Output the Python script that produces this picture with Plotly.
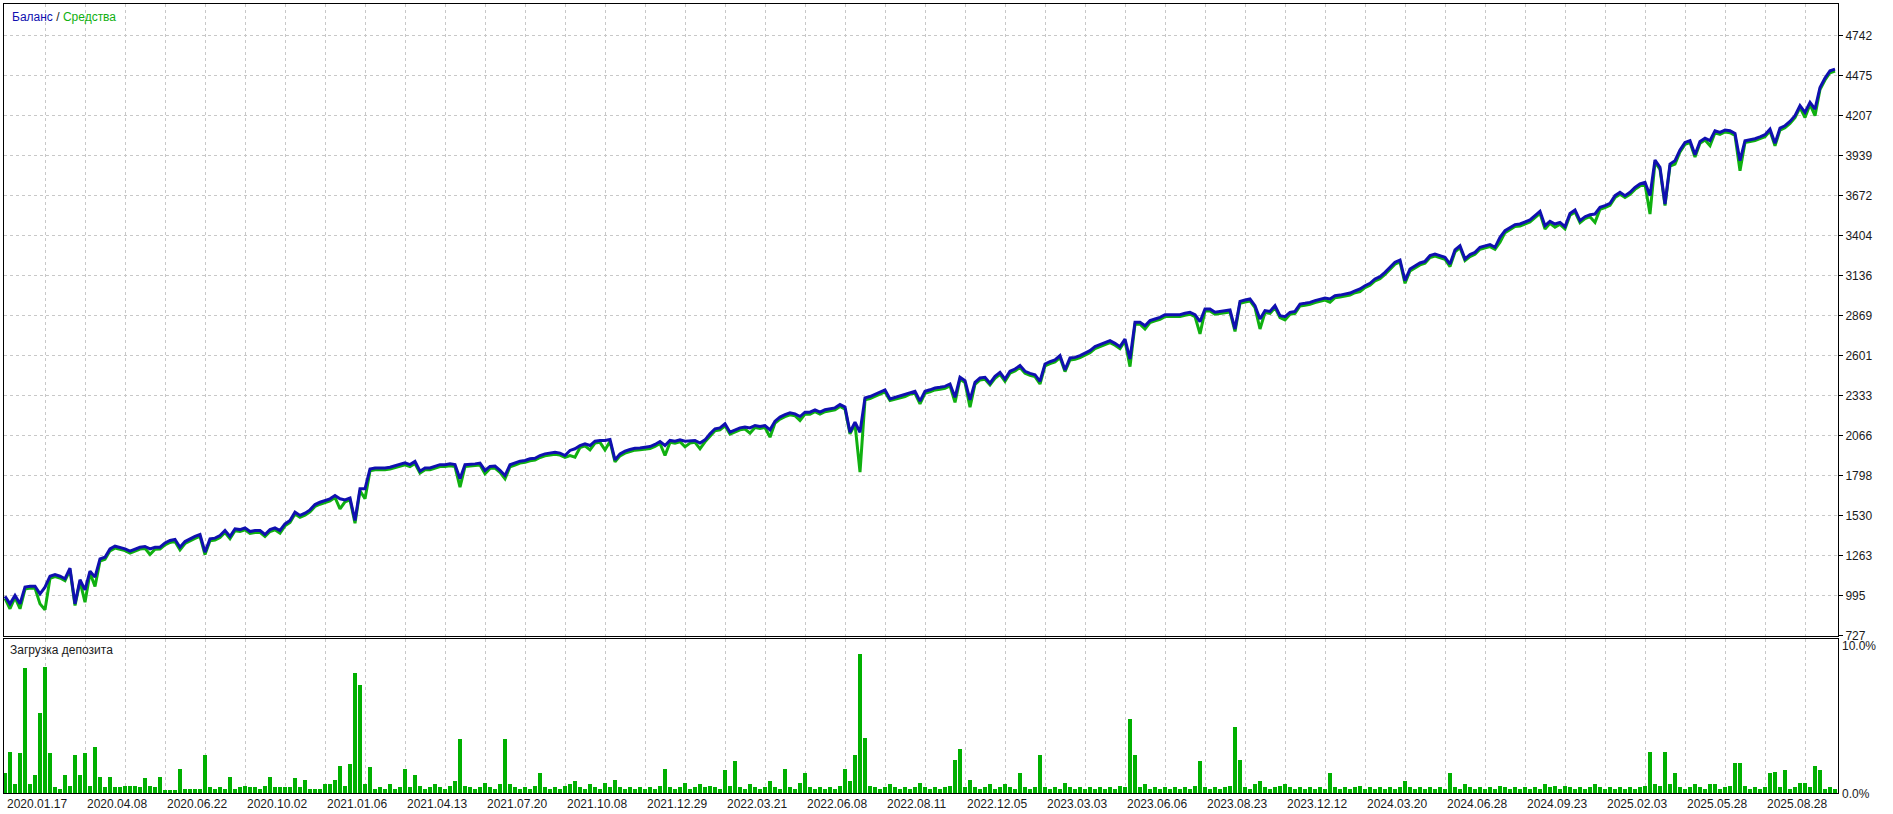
import plotly.graph_objects as go

# ---------------- data ----------------
date_labels = ["2020.01.17", "2020.04.08", "2020.06.22", "2020.10.02", "2021.01.06",
               "2021.04.13", "2021.07.20", "2021.10.08", "2021.12.29", "2022.03.21",
               "2022.06.08", "2022.08.11", "2022.12.05", "2023.03.03", "2023.06.06",
               "2023.08.23", "2023.12.12", "2024.03.20", "2024.06.28", "2024.09.23",
               "2025.02.03", "2025.05.28", "2025.08.28"]

y_ticks = [727, 995, 1263, 1530, 1798, 2066, 2333, 2601, 2869, 3136, 3404, 3672,
           3939, 4207, 4475, 4742]

balance = [
    990, 939, 995, 939, 1051, 1057, 1057, 1006, 1051, 1124,
    1135, 1124, 1107, 1178, 939, 1100, 1033, 1158, 1118, 1240,
    1251, 1307, 1325, 1318, 1307, 1292, 1307, 1318, 1323, 1307,
    1318, 1318, 1347, 1363, 1370, 1318, 1356, 1374, 1390, 1403,
    1285, 1374, 1379, 1396, 1430, 1390, 1441, 1436, 1448, 1423,
    1430, 1430, 1403, 1436, 1448, 1430, 1474, 1497, 1553, 1531,
    1546, 1568, 1604, 1619, 1631, 1642, 1664, 1642, 1635, 1648,
    1497, 1709, 1709, 1842, 1849, 1847, 1849, 1854, 1865, 1876,
    1883, 1871, 1892, 1827, 1849, 1849, 1860, 1871, 1871, 1876,
    1871, 1776, 1871, 1876, 1876, 1881, 1832, 1859, 1861, 1832,
    1798, 1870, 1881, 1894, 1899, 1910, 1914, 1932, 1943, 1948,
    1954, 1948, 1932, 1966, 1977, 1999, 2010, 1999, 2028, 2033,
    2033, 2039, 1903, 1943, 1961, 1972, 1981, 1983, 1988, 1992,
    2006, 2026, 1999, 2033, 2028, 2037, 2028, 2028, 2033, 2015,
    2037, 2077, 2111, 2117, 2144, 2088, 2104, 2117, 2122, 2117,
    2133, 2126, 2133, 2104, 2162, 2189, 2206, 2218, 2211, 2193,
    2222, 2222, 2238, 2222, 2238, 2244, 2251, 2273, 2256, 2088,
    2155, 2088, 2318, 2327, 2340, 2356, 2371, 2311, 2322, 2333,
    2340, 2356, 2362, 2296, 2362, 2372, 2384, 2389, 2395, 2411,
    2322, 2456, 2433, 2304, 2422, 2451, 2456, 2416, 2462, 2489,
    2444, 2496, 2511, 2534, 2496, 2482, 2473, 2429, 2545, 2560,
    2572, 2601, 2505, 2585, 2589, 2601, 2616, 2634, 2661, 2674,
    2690, 2701, 2683, 2661, 2712, 2578, 2824, 2824, 2801, 2835,
    2846, 2857, 2875, 2875, 2879, 2875, 2884, 2891, 2875, 2828,
    2913, 2913, 2891, 2897, 2902, 2906, 2779, 2964, 2973, 2980,
    2935, 2846, 2902, 2897, 2935, 2868, 2862, 2891, 2897, 2946,
    2951, 2957, 2969, 2975, 2986, 2980, 3002, 3006, 3013, 3020,
    3035, 3047, 3069, 3085, 3114, 3129, 3158, 3190, 3226, 3241,
    3103, 3181, 3203, 3221, 3232, 3270, 3281, 3270, 3259, 3214,
    3308, 3337, 3248, 3277, 3292, 3326, 3337, 3344, 3326, 3393,
    3437, 3460, 3478, 3482, 3493, 3509, 3538, 3567, 3471, 3500,
    3482, 3493, 3464, 3553, 3576, 3504, 3531, 3544, 3549, 3594,
    3605, 3620, 3672, 3694, 3672, 3694, 3727, 3750, 3761, 3672,
    3910, 3861, 3616, 3883, 3906, 3977, 4028, 4040, 3946, 4035,
    4057, 4040, 4106, 4095, 4111, 4106, 4088, 3906, 4040, 4046,
    4053, 4066, 4080, 4117, 4022, 4124, 4140, 4169, 4207, 4274,
    4229, 4296, 4251, 4396, 4459, 4508, 4519,
]

equity = [
    975, 906, 982, 906, 1038, 1045, 1044, 939, 899, 1110,
    1122, 1112, 1094, 1165, 928, 1088, 950, 1145, 1055, 1226,
    1238, 1294, 1312, 1305, 1295, 1279, 1294, 1306, 1310, 1269,
    1305, 1306, 1334, 1350, 1357, 1300, 1343, 1361, 1377, 1390,
    1269, 1361, 1366, 1383, 1417, 1375, 1428, 1423, 1435, 1410,
    1417, 1418, 1390, 1423, 1435, 1412, 1461, 1484, 1540, 1518,
    1533, 1555, 1591, 1606, 1618, 1629, 1651, 1575, 1622, 1635,
    1479, 1696, 1642, 1829, 1836, 1834, 1836, 1841, 1852, 1863,
    1870, 1858, 1879, 1814, 1836, 1836, 1847, 1858, 1858, 1863,
    1858, 1720, 1858, 1863, 1863, 1868, 1810, 1846, 1848, 1819,
    1776, 1857, 1868, 1881, 1886, 1897, 1901, 1919, 1930, 1935,
    1941, 1935, 1919, 1932, 1921, 1986, 1997, 1970, 2015, 2020,
    1970, 2026, 1890, 1930, 1948, 1959, 1968, 1970, 1975, 1979,
    1993, 2013, 1932, 2020, 2015, 2024, 1990, 2015, 2020, 1977,
    2024, 2064, 2098, 2104, 2131, 2075, 2091, 2104, 2109, 2082,
    2120, 2113, 2120, 2055, 2149, 2176, 2193, 2205, 2198, 2166,
    2209, 2209, 2225, 2209, 2225, 2231, 2238, 2260, 2243, 2077,
    2142, 1821, 2305, 2314, 2327, 2343, 2358, 2300, 2309, 2320,
    2327, 2343, 2349, 2278, 2349, 2359, 2371, 2376, 2382, 2398,
    2288, 2443, 2420, 2255, 2409, 2438, 2443, 2405, 2449, 2476,
    2429, 2483, 2498, 2521, 2483, 2469, 2460, 2411, 2532, 2547,
    2559, 2588, 2494, 2572, 2576, 2588, 2603, 2621, 2648, 2661,
    2677, 2688, 2670, 2648, 2699, 2527, 2811, 2811, 2779, 2822,
    2833, 2844, 2862, 2862, 2866, 2862, 2871, 2878, 2862, 2746,
    2900, 2900, 2878, 2884, 2889, 2893, 2763, 2951, 2960, 2967,
    2922, 2779, 2889, 2884, 2922, 2855, 2840, 2878, 2884, 2933,
    2938, 2944, 2956, 2962, 2973, 2958, 2989, 2993, 3000, 3007,
    3022, 3030, 3056, 3072, 3101, 3116, 3145, 3177, 3213, 3228,
    3085, 3168, 3190, 3208, 3219, 3257, 3268, 3257, 3246, 3197,
    3295, 3324, 3237, 3264, 3279, 3313, 3324, 3331, 3313, 3360,
    3424, 3447, 3465, 3469, 3480, 3496, 3525, 3554, 3449, 3487,
    3460, 3480, 3449, 3540, 3563, 3491, 3518, 3531, 3493, 3581,
    3592, 3607, 3659, 3681, 3659, 3681, 3714, 3737, 3748, 3549,
    3897, 3848, 3605, 3870, 3883, 3964, 4015, 4027, 3930, 4022,
    4044, 4006, 4093, 4082, 4098, 4093, 4075, 3839, 4027, 4033,
    4040, 4053, 4067, 4104, 4006, 4111, 4127, 4156, 4194, 4261,
    4195, 4283, 4207, 4383, 4446, 4495, 4506,
]

deposit_load = [
    1.3, 2.7, 0.6, 2.6, 8.1, 0.6, 1.2, 5.2, 8.2, 2.6,
    0.4, 0.3, 1.2, 0.5, 2.5, 1.2, 2.6, 0.5, 3.0, 1.1,
    0.4, 1.1, 0.4, 0.4, 0.5, 0.5, 0.5, 0.4, 1.0, 0.5,
    0.4, 1.1, 0.2, 0.2, 0.2, 1.6, 0.3, 0.3, 0.3, 0.3,
    2.5, 0.4, 0.3, 0.4, 0.3, 1.1, 0.3, 0.4, 0.5, 0.4,
    0.4, 0.3, 0.5, 1.1, 0.4, 0.4, 0.4, 0.4, 1.0, 0.4,
    0.9, 0.3, 0.3, 0.3, 0.6, 0.6, 0.9, 1.8, 0.5, 1.9,
    7.8, 7.0, 0.6, 1.7, 0.3, 0.4, 0.3, 0.6, 0.3, 0.4,
    1.6, 0.4, 1.2, 0.5, 0.3, 0.4, 0.6, 0.4, 0.3, 0.5,
    0.8, 3.5, 0.5, 0.4, 0.3, 0.4, 0.7, 0.4, 0.3, 0.6,
    3.5, 0.6, 0.4, 0.3, 0.4, 0.3, 0.5, 1.3, 0.4, 0.3,
    0.4, 0.3, 0.5, 0.6, 0.8, 0.4, 0.3, 0.6, 0.4, 0.3,
    0.7, 0.4, 0.9, 0.4, 0.3, 0.4, 0.3, 0.4, 0.3, 0.4,
    0.3, 0.5, 1.6, 0.4, 0.3, 0.4, 0.7, 0.3, 0.4, 0.6,
    0.4, 0.5, 0.4, 0.3, 1.5, 0.5, 2.1, 0.4, 0.3, 0.6,
    0.4, 0.3, 0.4, 0.8, 0.4, 0.3, 1.6, 0.4, 0.3, 0.7,
    1.3, 0.4, 0.3, 0.4, 0.3, 0.4, 0.3, 0.5, 1.6, 0.8,
    2.5, 9.0, 3.6, 0.5, 0.4, 0.3, 0.4, 0.6, 0.4, 0.3,
    0.4, 0.3, 0.4, 0.7, 0.4, 0.3, 0.4, 0.3, 0.4, 0.5,
    2.2, 2.9, 0.4, 0.9, 0.4, 0.3, 0.4, 0.6, 0.3, 0.4,
    0.6, 0.4, 0.3, 1.3, 0.4, 0.3, 0.4, 2.5, 0.4, 0.3,
    0.4, 0.3, 0.7, 0.4, 0.3, 0.4, 0.3, 0.4, 0.3, 0.4,
    0.3, 0.4, 0.3, 0.5, 0.4, 4.8, 2.5, 0.4, 0.6, 0.3,
    0.4, 0.3, 0.4, 0.3, 0.4, 0.3, 0.4, 0.3, 0.5, 2.1,
    0.4, 0.3, 0.4, 0.3, 0.4, 0.5, 4.3, 2.2, 0.4, 0.3,
    0.6, 0.8, 0.4, 0.3, 0.4, 0.5, 0.6, 0.4, 0.3, 0.4,
    0.3, 0.4, 0.3, 0.4, 0.3, 1.3, 0.4, 0.3, 0.4, 0.3,
    0.4, 0.5, 0.3, 0.4, 0.3, 0.4, 0.3, 0.4, 0.3, 0.4,
    0.8, 0.4, 0.3, 0.4, 0.3, 0.4, 0.3, 0.4, 0.3, 1.3,
    0.4, 0.3, 0.6, 0.4, 0.3, 0.4, 0.3, 0.4, 0.3, 0.5,
    0.4, 0.3, 0.4, 0.3, 0.4, 0.3, 0.4, 0.3, 0.6, 0.4,
    0.5, 0.3, 0.5, 0.4, 0.3, 0.4, 0.3, 0.4, 0.6, 0.4,
    0.3, 0.4, 0.3, 0.4, 0.3, 0.4, 0.3, 0.4, 0.5, 2.7,
    0.6, 0.5, 2.7, 0.6, 1.3, 0.4, 0.3, 0.4, 0.6, 0.4,
    0.3, 0.6, 0.6, 0.3, 0.4, 0.5, 2.0, 2.0, 0.5, 0.3,
    0.4, 0.3, 0.4, 1.3, 1.4, 0.4, 1.5, 0.3, 0.4, 0.7,
    0.7, 0.4, 1.8, 1.5, 0.3, 0.4, 0.3,
]

# ---------------- figure ----------------
BLUE = "#1010b0"
GREEN = "#10b010"
GRID = "#c8c8c8"
FONT = "Liberation Sans"
TXT = "#1a1a1a"

n = len(balance)
idx = list(range(n))
grid_step = 8
label_step = 16
grid_vals = list(range(grid_step, n, grid_step))
label_pos = [k * label_step for k in range(len(date_labels))]
x_range = [-0.2, 366.6]

fig = go.Figure()
fig.add_trace(go.Bar(
    x=list(range(len(deposit_load))), y=deposit_load, xaxis="x2", yaxis="y2",
    marker=dict(color="#00b000", line=dict(width=0)), width=0.9, showlegend=False,
    hoverinfo="skip"))
fig.add_trace(go.Scatter(x=idx, y=equity, mode="lines", name="Средства",
                         line=dict(color=GREEN, width=3), showlegend=False))
fig.add_trace(go.Scatter(x=idx, y=balance, mode="lines", name="Баланс",
                         line=dict(color=BLUE, width=3), showlegend=False))

H_TOP, H_MAIN_BOT, H_SUB_TOP, H_BOT = 4, 635.5, 638.5, 793
plot_h = H_BOT - H_TOP
main_lo = (H_BOT - H_MAIN_BOT) / plot_h
sub_hi = (H_BOT - H_SUB_TOP) / plot_h

axis_common = dict(showline=True, mirror=True, linecolor="black", linewidth=1,
                   zeroline=False)

fig.update_layout(
    width=1893, height=814,
    margin=dict(l=4, r=55, t=H_TOP, b=814 - H_BOT, pad=0),
    paper_bgcolor="white", plot_bgcolor="white",
    font=dict(family=FONT, size=12, color=TXT),
    bargap=0,
    showlegend=False,
    xaxis=dict(domain=[0, 1], anchor="y", range=x_range, tickvals=grid_vals,
               showticklabels=False, ticks="", showgrid=True, gridcolor=GRID,
               griddash="3px,3px", gridwidth=1, **axis_common),
    yaxis=dict(domain=[main_lo, 1], anchor="x", side="right", range=[727, 4955],
               tickvals=y_ticks, ticktext=[str(v) for v in y_ticks],
               ticks="outside", ticklen=4, tickcolor="black",
               showgrid=True, gridcolor=GRID, griddash="3px,3px", gridwidth=1,
               tickfont=dict(family=FONT, size=12, color=TXT), **axis_common),
    xaxis2=dict(domain=[0, 1], anchor="y2", range=x_range, tickvals=grid_vals,
                showticklabels=False, ticks="", showgrid=True, gridcolor=GRID,
                griddash="3px,3px", gridwidth=1, **axis_common),
    yaxis2=dict(domain=[0, sub_hi], anchor="x2", side="right", range=[0, 10],
                showgrid=False, showticklabels=False, ticks="", **axis_common),
)

ann = []
ann.append(dict(
    xref="paper", yref="paper", x=0.003, y=1, xanchor="left", yanchor="top",
    yshift=-4, showarrow=False,
    text=f'<span style="color:{BLUE}">Баланс</span> / '
         f'<span style="color:{GREEN}">Средства</span>',
    font=dict(family=FONT, size=12, color=TXT)))
ann.append(dict(
    xref="paper", yref="paper", x=0.002, y=sub_hi, xanchor="left", yanchor="top",
    yshift=-2, showarrow=False, text="Загрузка депозита",
    font=dict(family=FONT, size=12, color=TXT)))
ann.append(dict(
    xref="paper", yref="paper", x=1, y=(H_BOT - 646) / plot_h, xanchor="left",
    yanchor="middle", xshift=2, showarrow=False, text="10.0%",
    font=dict(family=FONT, size=12, color=TXT)))
ann.append(dict(
    xref="paper", yref="paper", x=1, y=(H_BOT - 794) / plot_h, xanchor="left",
    yanchor="middle", xshift=2, showarrow=False, text="0.0%",
    font=dict(family=FONT, size=12, color=TXT)))
for pos, lab in zip(label_pos, date_labels):
    ann.append(dict(xref="x2", yref="paper", x=pos, y=0, xanchor="left",
                    yanchor="top", yshift=-2, showarrow=False, text=lab,
                    font=dict(family=FONT, size=12, color=TXT)))
fig.update_layout(annotations=ann)

fig.write_html("out.html", config={"displayModeBar": False},
               post_script="document.body.style.margin='0';document.body.style.overflow='hidden';")
